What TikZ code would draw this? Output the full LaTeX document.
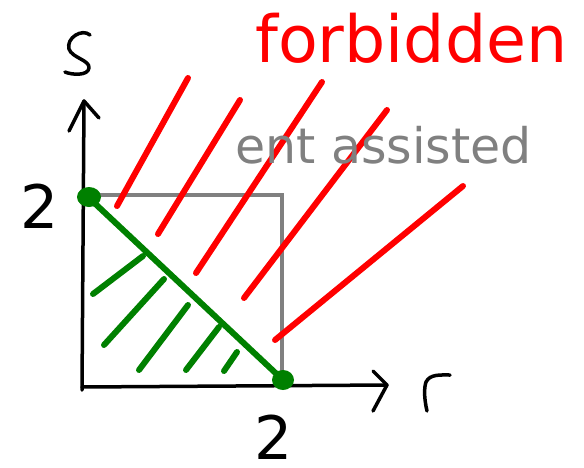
\documentclass[tikz,border=0pt]{standalone}
\usepackage{fontspec}
\setmainfont{DejaVu Sans}
\definecolor{dgreen}{RGB}{0,128,0}
\definecolor{lgray}{RGB}{128,128,128}
\begin{document}
\begin{tikzpicture}[x=1pt,y=-1pt,
  axis/.style={line width=3.5pt,line cap=round,line join=round,black},
  redl/.style={line width=6pt,line cap=round,red},
  greenl/.style={line width=6pt,line cap=round,dgreen},
  lbl/.style={inner sep=0pt,anchor=base west,font=\fontsize{60}{62}\selectfont}]
\useasboundingbox (0,0) rectangle (584,467);
% gray square
\draw[line width=3.5pt,lgray] (84,195) -- (282,195) -- (282,372);
% axes
\draw[axis] (82,390) -- (84,101);
\draw[axis] (69,131) -- (84,101) -- (99,118);
\draw[axis] (82,387) -- (387,385);
\draw[axis] (373,371) -- (387,385) -- (373,411);
% handwritten s
\draw[axis] (90,35) .. controls (82,28) and (66,38) .. (69,49)
  .. controls (72,58) and (90,60) .. (89,68)
  .. controls (88,76) and (72,75) .. (65,72);
% handwritten r
\draw[axis] (427,411) .. controls (424,398) and (424,388) .. (426,382)
  .. controls (430,374) and (440,375) .. (450,375);
% red lines
\draw[redl] (117,206) -- (188,78);
\draw[redl] (158,234) -- (240,100);
\draw[redl] (196,273) -- (322,82);
\draw[redl] (244,298) -- (387,110);
\draw[redl] (275,340) -- (463,186);
% green hatch
\draw[greenl] (93,294) -- (143,256);
\draw[greenl] (104,345) -- (164,279);
\draw[greenl] (139,370) -- (188,305);
\draw[greenl] (186,370) -- (219,327);
\draw[greenl] (224,371) -- (237,352);
% green diagonal and dots
\draw[greenl] (88,197) -- (283,380);
\fill[dgreen] (89,197) ellipse [x radius=12, y radius=10];
\fill[dgreen] (283,380) ellipse [x radius=11, y radius=10];
% labels
\node[lbl,text=red,font=\fontsize{65}{67}\selectfont] (forb) at (255,62) {forbidden};
\node[lbl,text=lgray,font=\fontsize{49}{51}\selectfont] (ent) at (235,163) {ent assisted};
\node[lbl] (two1) at (20,228) {2};
\node[lbl] (two2) at (254,459) {2};
\end{tikzpicture}
\end{document}
